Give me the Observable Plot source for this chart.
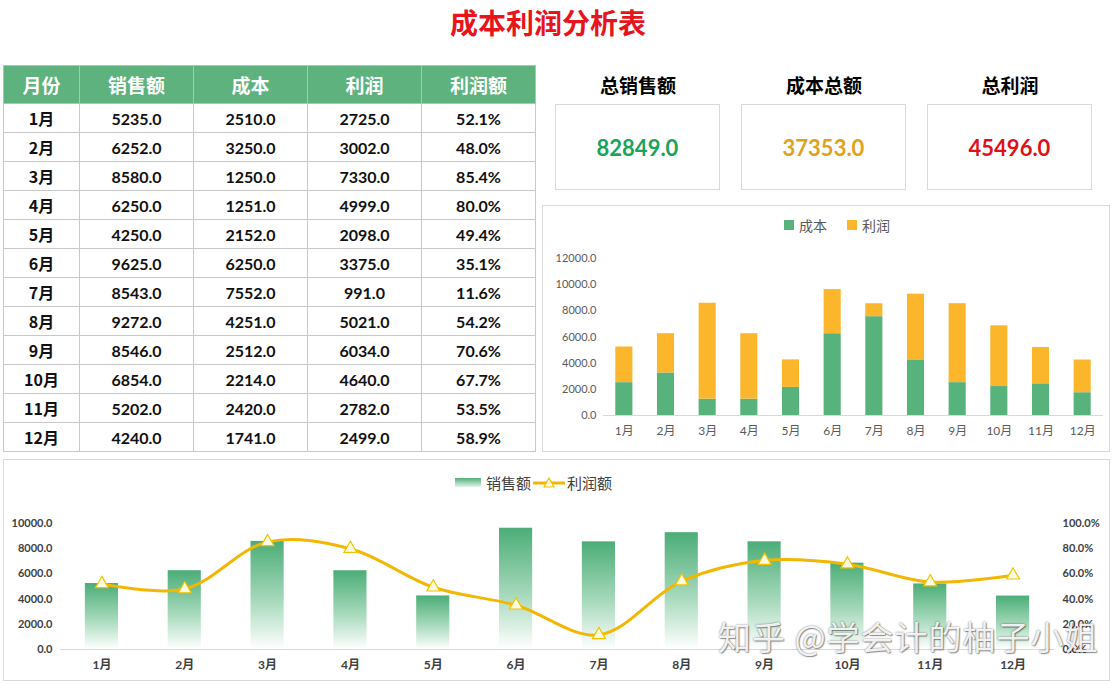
<!DOCTYPE html>
<html><head><meta charset="utf-8">
<script src="https://cdn.jsdelivr.net/npm/d3@7"></script>
<script src="https://cdn.jsdelivr.net/npm/@observablehq/plot@0.6"></script>
<style>
body{margin:0;width:1118px;height:684px;position:relative;background:#fff;overflow:hidden;font-family:Lato,"Noto Sans CJK SC",sans-serif}
.abs{position:absolute}
#title{left:0;width:1096px;top:2px;text-align:center;color:#e8141c;font-size:28px;font-weight:bold;font-family:"Noto Sans CJK SC";line-height:40px}
table{border-collapse:collapse;position:absolute;left:3px;top:65px;table-layout:fixed}
td,th{border:1px solid #c8c8c8;text-align:center;padding:0;box-sizing:border-box}
th{background:#5db27d;color:#fff;height:38px;font-size:19px;font-family:"Noto Sans CJK SC";font-weight:bold;border-color:#9bd0ae}
td{height:29px;font-size:16px;font-weight:bold;color:#111}
td.m{font-family:"Noto Sans CJK SC";font-size:16px}
.kl{font-family:"Noto Sans CJK SC";font-weight:bold;font-size:19px;color:#000;text-align:center;width:166px;top:70px;line-height:30px}
.kb{border:1px solid #d9d9d9;width:165px;height:86px;top:104px;box-sizing:border-box;display:flex;align-items:center;justify-content:center;font-size:22px;font-weight:bold}
.box{border:1px solid #d9d9d9;box-sizing:border-box}
.leg{display:flex;align-items:center;font-family:"Noto Sans CJK SC";color:#595959}
#wm{left:718px;top:612px;font-family:"Noto Sans CJK SC";font-size:33px;color:rgba(255,255,255,0.92);text-shadow:0 0 2px rgba(0,0,0,0.55),1px 1px 1px rgba(0,0,0,0.35);white-space:nowrap;letter-spacing:1px}
</style></head><body>
<div id="title" class="abs">成本利润分析表</div>
<table id="tbl"></table>
<div id="kpis"></div>
<div class="abs box" style="left:542px;top:205px;width:568px;height:247px"></div>
<div class="abs box" style="left:3px;top:459px;width:1107px;height:222px"></div>
<div class="abs leg" style="left:784px;top:215px;font-size:14px">
  <span style="width:10px;height:10px;background:#57b27c;display:inline-block;margin-right:5px"></span>成本
  <span style="width:10px;height:10px;background:#fbb62c;display:inline-block;margin-left:20px;margin-right:5px"></span>利润
</div>
<div class="abs leg" style="left:455px;top:472px;font-size:15px;color:#404040">
  <span style="width:26px;height:9px;background:linear-gradient(#4fae79,#e6f4ec);display:inline-block;margin-right:5px"></span>销售额
  <svg width="32" height="14" style="margin:0 2px"><line x1="0" y1="7" x2="32" y2="7" stroke="#f2b705" stroke-width="3"/><path d="M16,2 L21,11 L11,11 Z" fill="#fffbe0" stroke="#f2c200" stroke-width="1.2"/></svg>利润额
</div>
<div id="c1" class="abs" style="left:543px;top:248px"></div>
<div id="c2" class="abs" style="left:4px;top:505px"></div>
<div id="wm" class="abs">知乎 @学会计的柚子小姐</div>
<script>
const months = ["1月","2月","3月","4月","5月","6月","7月","8月","9月","10月","11月","12月"];
const sales  = [5235,6252,8580,6250,4250,9625,8543,9272,8546,6854,5202,4240];
const cost   = [2510,3250,1250,1251,2152,6250,7552,4251,2512,2214,2420,1741];
const profit = [2725,3002,7330,4999,2098,3375,991,5021,6034,4640,2782,2499];
const margin = [52.1,48.0,85.4,80.0,49.4,35.1,11.6,54.2,70.6,67.7,53.5,58.9];
const headers = ["月份","销售额","成本","利润","利润额"];
const kpiLabels = ["总销售额","成本总额","总利润"];
const kpiColors = ["#1aa35a","#e0a020","#e0101a"];

// table
const colW = [76,114,114,114,114];
const tbl = document.getElementById("tbl");
let html = "<colgroup>" + colW.map(w=>`<col style="width:${w}px">`).join("") + "</colgroup>";
html += "<tr>" + headers.map(h=>`<th>${h}</th>`).join("") + "</tr>";
months.forEach((m,i)=>{
  html += `<tr><td class="m">${m}</td><td>${sales[i].toFixed(1)}</td><td>${cost[i].toFixed(1)}</td><td>${profit[i].toFixed(1)}</td><td>${margin[i].toFixed(1)}%</td></tr>`;
});
tbl.innerHTML = html;

// KPIs
const totals = [d3.sum(sales), d3.sum(cost), d3.sum(profit)];
const kx = [555,741,927];
document.getElementById("kpis").innerHTML = kpiLabels.map((l,i)=>
  `<div class="abs kl" style="left:${kx[i]}px">${l}</div><div class="abs kb" style="left:${kx[i]}px;color:${kpiColors[i]}">${totals[i].toFixed(1)}</div>`).join("");

// chart 1: stacked
const stack = months.flatMap((m,i)=>[{month:m,type:"成本",value:cost[i]},{month:m,type:"利润",value:profit[i]}]);
const c1 = Plot.plot({
  width:567,height:200,marginLeft:60,marginRight:7,marginTop:10,marginBottom:33,
  x:{domain:months,paddingInner:0.59,paddingOuter:0.295,round:false,label:null},
  y:{domain:[0,12000],label:null},
  color:{domain:["成本","利润"],range:["#57b27c","#fbb62c"]},
  style:{fontFamily:"Lato,'Noto Sans CJK SC',sans-serif",fontSize:"11px",color:"#595959",background:"transparent"},
  marks:[
    Plot.barY(stack,{x:"month",y:"value",fill:"type"}),
    Plot.ruleY([0],{stroke:"#d9d9d9"}),
    Plot.axisY({ticks:d3.range(0,12001,2000),tickFormat:d3.format(".1f"),tickSize:0,tickPadding:7,label:null}),
    Plot.axisX({tickSize:0,tickPadding:11,label:null,fontSize:12})
  ]
});
document.getElementById("c1").appendChild(c1);

// chart 2: combo
const combo = months.map((m,i)=>({month:m,sales:sales[i],margin:margin[i]}));
const defs = () => {
  const d = d3.create("svg:defs");
  const g = d.append("linearGradient").attr("id","salesGrad").attr("x1",0).attr("x2",0).attr("y1",0).attr("y2",1);
  g.append("stop").attr("offset","0%").attr("stop-color","#4bad77");
  g.append("stop").attr("offset","55%").attr("stop-color","#a6d9bb");
  g.append("stop").attr("offset","100%").attr("stop-color","#ffffff");
  return d.node();
};
const c2 = Plot.plot({
  width:1105,height:173,marginLeft:56,marginRight:55,marginTop:18,marginBottom:29,
  x:{domain:months,paddingInner:0.6,paddingOuter:0.3,round:false,label:null},
  y:{domain:[0,10000],label:null},
  style:{fontFamily:"Lato,'Noto Sans CJK SC',sans-serif",fontSize:"11px",color:"#404040",fontWeight:"bold",background:"transparent"},
  marks:[
    defs,
    Plot.barY(combo,{x:"month",y:"sales",fill:"url(#salesGrad)"}),
    Plot.ruleY([0],{stroke:"#d9d9d9"}),
    Plot.lineY(combo,{x:"month",y:d=>d.margin*100,stroke:"#f2b705",strokeWidth:3,curve:"catmull-rom"}),
    Plot.dot(combo,{x:"month",y:d=>d.margin*100,symbol:"triangle",r:4.8,fill:"#fffbe0",stroke:"#f2c200",strokeWidth:1.2}),
    Plot.axisY({anchor:"left",ticks:d3.range(0,10001,2000),tickFormat:d3.format(".1f"),tickSize:0,tickPadding:8,label:null}),
    Plot.axisY({anchor:"right",ticks:d3.range(0,10001,2000),tickFormat:d=>(d/100).toFixed(1)+"%",tickSize:0,tickPadding:8,label:null}),
    Plot.axisX({tickSize:0,tickPadding:11,label:null,fontSize:12})
  ]
});
document.getElementById("c2").appendChild(c2);
</script>
</body></html>
